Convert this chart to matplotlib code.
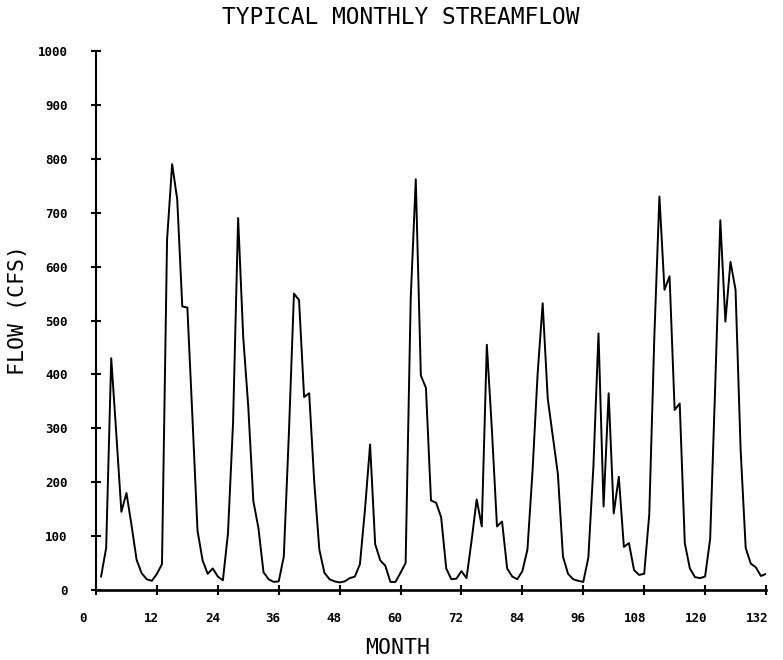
import matplotlib
matplotlib.use("Agg")
import matplotlib.pyplot as plt
from matplotlib.transforms import ScaledTranslation

# ---- data ----
months = list(range(1, 133))
flow = [
    25, 78, 430, 290, 145, 180, 120, 56, 31, 20, 17, 30,          # 1-12
    48, 650, 790, 725, 526, 524, 320, 110, 55, 30, 40, 25,        # 13-24
    18, 105, 310, 690, 470, 340, 165, 115, 33, 20, 15, 16,        # 25-36
    62, 290, 550, 538, 358, 365, 200, 75, 32, 20, 16, 14,         # 37-48
    16, 22, 25, 48, 150, 270, 85, 55, 45, 15, 15, 32,             # 49-60
    50, 540, 762, 398, 375, 166, 162, 135, 40, 20, 21, 35,        # 61-72
    22, 92, 168, 118, 455, 297, 118, 127, 40, 25, 20, 35,         # 73-84
    75, 220, 400, 532, 355, 285, 215, 62, 30, 20, 17, 15,         # 85-96
    60, 230, 476, 155, 365, 142, 210, 80, 87, 37, 28, 30,         # 97-108
    140, 470, 730, 557, 582, 334, 346, 87, 40, 24, 22, 25,        # 109-120
    95, 380, 686, 498, 609, 557, 260, 78, 49, 42, 26, 30,         # 121-132
]
x_ticks = [0, 12, 24, 36, 48, 60, 72, 84, 96, 108, 120, 132]
y_ticks = [0, 100, 200, 300, 400, 500, 600, 700, 800, 900, 1000]

title = "TYPICAL MONTHLY STREAMFLOW"
x_label = "MONTH"
y_label = "FLOW (CFS)"

W, H = 783, 660
fig = plt.figure(figsize=(W / 100, H / 100), dpi=100)
ax = fig.add_axes([96 / W, 70 / H, 670 / W, 539 / H])

ax.plot(months, flow, color="black", lw=1.4, solid_joinstyle="round")

ax.set_xlim(0, 132)
ax.set_ylim(0, 1000)
for s in ("top", "right"):
    ax.spines[s].set_visible(False)
ax.spines["left"].set_linewidth(1.5)
ax.spines["bottom"].set_linewidth(1.9)

tick_font = dict(family="DejaVu Sans Mono", weight="bold", size=9)
ax.set_xticks(x_ticks)
ax.set_xticklabels([str(v) for v in x_ticks], ha="right", **tick_font)
ax.set_yticks(y_ticks)
ax.set_yticklabels([str(v) for v in y_ticks], **tick_font)
ax.tick_params(axis="both", direction="inout", length=7, width=1.5, color="black")
ax.tick_params(axis="x", pad=12)
ax.tick_params(axis="y", pad=17)

labs = ax.get_xticklabels()
for i, lab in enumerate(labs):
    dx = 2 / 100.0
    if i == 0:
        dx = -9 / 100.0
    lab.set_transform(lab.get_transform() + ScaledTranslation(dx, 0, fig.dpi_scale_trans))

text_font = dict(family="DejaVu Sans Mono", weight="normal")
fig.text(401 / W, 1 - 18 / H, title, ha="center", va="center", size=16.5, **text_font)
fig.text(398 / W, 1 - 648 / H, x_label, ha="center", va="center", size=15.5, **text_font)
fig.text(18 / W, 1 - 310 / H, y_label, ha="center", va="center", rotation=90, size=15.5, **text_font)

fig.savefig("out.png", dpi=100)
